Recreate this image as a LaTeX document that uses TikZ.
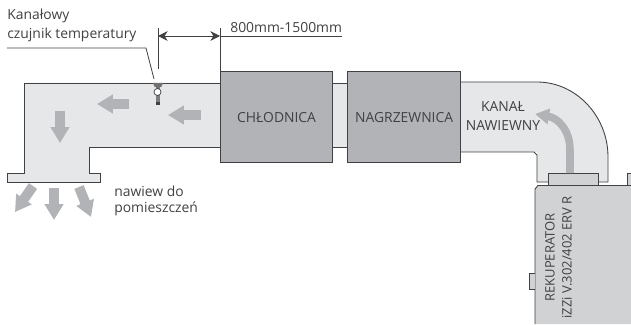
\documentclass[tikz,border=0pt]{standalone}
\usepackage{fontspec}
\setmainfont{Open Sans}
\usetikzlibrary{arrows.meta}
\definecolor{kanal}{HTML}{E6E7E8}
\definecolor{blok}{HTML}{B1B3B6}
\definecolor{rekup}{HTML}{D1D2D4}
\definecolor{linia}{HTML}{414042}
\definecolor{tekst}{HTML}{414042}
\tikzset{
    wall/.style={draw=linia, line width=0.5pt},
    flowarrow/.style={blok, line width=5.7pt, -{Triangle[width=10.2pt,length=9pt]}},
    label/.style={tekst, inner sep=0pt, font=\fontsize{7.9}{9}\selectfont},
    sidelabel/.style={label, rotate=90, anchor=west, font=\fontsize{7.4}{9}\selectfont},
    unit/.style={wall, fill=blok, line width=0.7pt, minimum height=1.82cm, inner sep=0pt, anchor=north west, text=tekst, font=\fontsize{7.9}{9}\selectfont},
    dimline/.style={linia, line width=0.45pt},
}
\begin{document}
\begin{tikzpicture}[x=0.02cm, y=-0.02cm, >={Stealth[length=5.5pt,width=5.5pt]}]
    \useasboundingbox (0,0) rectangle (631,324);

    % Kanal lewy z kratka nawiewna
    \fill[kanal] (220,83) -- (24.5,83) -- (24.5,173) -- (7,173) -- (7,182) -- (100,182) -- (100,173) -- (89,173) -- (89,147) -- (220,147) -- cycle;
    \draw[wall] (220,83) -- (24.5,83) -- (24.5,173) -- (7,173) -- (7,182) -- (100,182) -- (100,173) -- (89,173) -- (89,147) -- (220,147);

    % Odcinek miedzy blokami
    \fill[kanal] (332,83) rectangle (347,147);
    \draw[wall] (332,83) -- (347,83);
    \draw[wall] (332,147) -- (347,147);

    % Kanal prawy (kolano)
    \fill[kanal] (460,82) -- (537,82) .. controls (576,82) and (608,116) .. (608,157) -- (608,182) -- (537,182) -- (537,152) -- (460,152) -- cycle;
    \draw[wall] (460,82) -- (537,82) .. controls (576,82) and (608,116) .. (608,157) -- (608,182) -- (537,182) -- (537,155) -- (534,152) -- (460,152);

    % Rekuperator
    \fill[rekup] (631,185.5) -- (538,185.5) -- (535,189) -- (535,324) -- (631,324) -- cycle;
    \draw[wall] (631,185.5) -- (538,185.5) -- (535,189) -- (535,324);
    \filldraw[wall, fill=rekup] (548,173) rectangle (598,185.5);
    \filldraw[wall, fill=rekup] (631,173) -- (627,173) -- (627,185.5) -- (631,185.5);
    \filldraw[wall, fill=rekup] (535,273) -- (529,273) -- (529,289) -- (535,289);

    % Strzalki przeplywu
    \draw[flowarrow] (201,115) -- (168,115);
    \draw[flowarrow] (129,104) -- (97,104);
    \draw[flowarrow] (60,111) -- (60,143);
    \draw[flowarrow] (54,188) -- (54,220);
    \draw[flowarrow] (33,186) -- (15,212);
    \draw[flowarrow] (79,187) -- (91,217);
    \draw[flowarrow, line width=4.3pt, -{Triangle[width=8.5pt,length=8pt]}] (570,173) -- (570,150) .. controls (570,130) and (558,118) .. (535,114);

    % Chlodnica i nagrzewnica
    \node[unit, minimum width=2.24cm] (chlodnica) at (220,71) {CHŁODNICA};
    \node[unit, minimum width=2.26cm] (nagrzewnica) at (347,71) {NAGRZEWNICA};

    % Czujnik temperatury
    \fill[blok!70!black] (155.5,83) rectangle (159.5,104);
    \fill[linia] (155.5,102) rectangle (159.5,105);
    \fill[linia!75] (153,83) arc (180:0:5 and 5) -- cycle;
    \filldraw[draw=linia, fill=white, line width=0.4pt] (157.5,92) circle (3.5);

    % Opisy
    \node[label, anchor=west] (czujnik1) at (7,16) {Kanałowy};
    \node[label, anchor=west] (czujnik2) at (7,35) {czujnik temperatury};
    \node[label, anchor=west] (wymiar) at (230,28) {800mm-1500mm};
    \node[label, anchor=west] (nawiew1) at (114,191) {nawiew do};
    \node[label, anchor=west] (nawiew2) at (114,209) {pomieszczeń};
    \node[label] (kanal1) at (503,107) {KANAŁ};
    \node[label] (kanal2) at (503,126) {NAWIEWNY};
    \node[sidelabel] (rekuperator) at (550,302) {REKUPERATOR};
    \node[sidelabel] (model) at (567,319) {iZZi V.302/402 ERV R};

    % Linia odniesienia do czujnika
    \coordinate (odn0) at (7,48);
    \coordinate (odn1) at (146,48);
    \coordinate (odn2) at (154,79);
    \draw[dimline] (odn0) -- (odn1) -- (odn2);

    % Wymiar
    \coordinate (wym1) at (158,36);
    \coordinate (wym2) at (220,36);
    \coordinate (wym3) at (342,36);
    \draw[dimline] (158,28) -- (158,69);
    \draw[dimline] (220,28) -- (220,71);
    \draw[dimline, <->] (wym1) -- (wym2);
    \draw[dimline] (wym2) -- (wym3);
\end{tikzpicture}
\end{document}
